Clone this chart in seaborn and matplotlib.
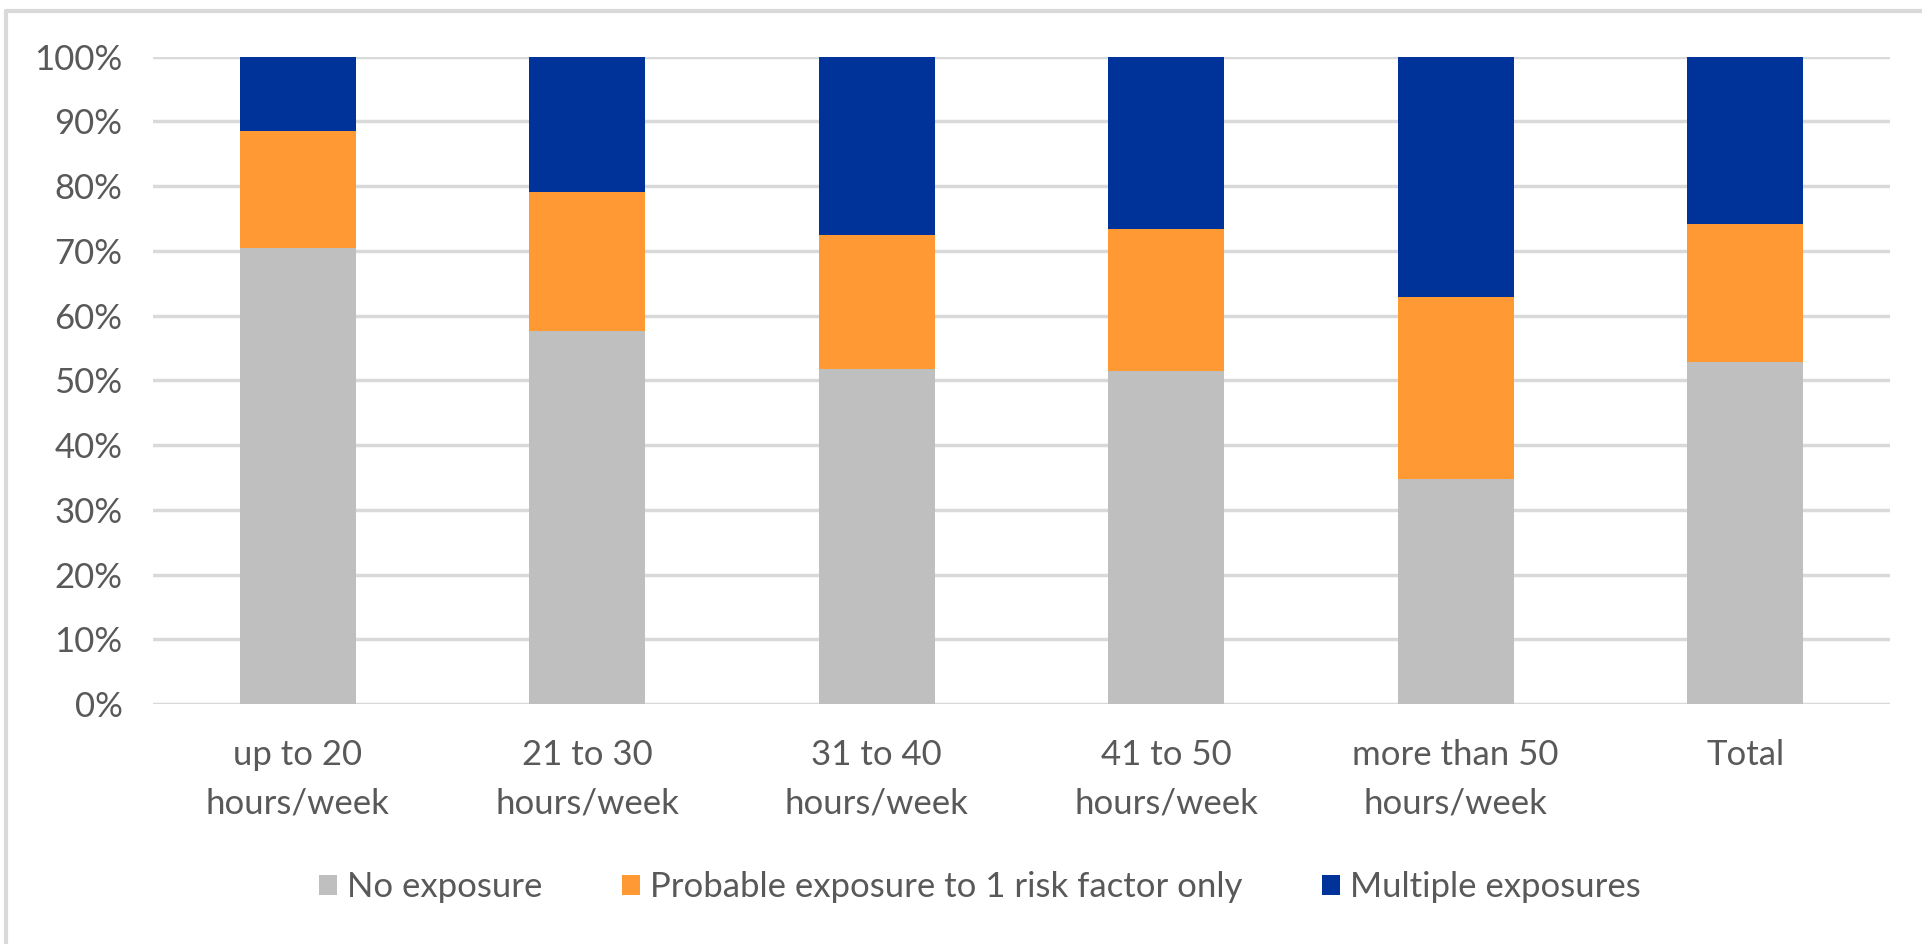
import matplotlib
matplotlib.use("Agg")
import matplotlib.pyplot as plt
from matplotlib.lines import Line2D
from matplotlib.patches import Patch
from matplotlib.ticker import FuncFormatter
import seaborn as sns
import pandas as pd
import numpy as np

# Share of workers by weekly working hours and exposure level (%)
categories = ["up to 20\nhours/week", "21 to 30\nhours/week", "31 to 40\nhours/week",
              "41 to 50\nhours/week", "more than 50\nhours/week", "Total"]
no_exposure = [70.5, 57.7, 51.8, 51.5, 34.8, 52.8]
probable_one = [18.0, 21.4, 20.7, 21.9, 28.0, 21.3]
multiple = [11.5, 20.9, 27.5, 26.6, 37.2, 25.9]
series_names = ["No exposure", "Probable exposure to 1 risk factor only", "Multiple exposures"]
y_ticks = list(range(0, 101, 10))

colors = ["#BFBFBF", "#FF9933", "#003399"]
text_color = "#595959"
grid_color = "#D9D9D9"
font_size = 25

sns.set_theme(style="white")
plt.rcParams["font.family"] = ["Lato", "DejaVu Sans"]

df = pd.DataFrame({
    "category": categories,
    "no": no_exposure,
    "probable": probable_one,
    "multiple": multiple,
})
df["lvl1"] = df["no"]
df["lvl2"] = df["no"] + df["probable"]
df["lvl3"] = df["lvl2"] + df["multiple"]

W, H = 1922, 944
fig = plt.figure(figsize=(W / 100, H / 100), dpi=100)
ax = fig.add_axes([153 / W, 1 - 704 / H, (1890 - 153) / W, (704 - 56.7) / H])

# Stack by drawing cumulative totals from tallest to shortest
for col, c in zip(["lvl3", "lvl2", "lvl1"], colors[::-1]):
    sns.barplot(data=df, x="category", y=col, color=c, width=0.4,
                saturation=1, ax=ax, zorder=3, linewidth=0)

ax.set_ylim(0, 100)
ax.set_xlim(-0.5, len(categories) - 0.5)
ax.set_yticks(y_ticks)
ax.yaxis.set_major_formatter(FuncFormatter(lambda v, p: f"{int(v)}%"))
ax.set_axisbelow(True)
ax.yaxis.grid(True, color=grid_color, linewidth=2.5)
ax.xaxis.grid(False)
for s in ax.spines.values():
    s.set_visible(False)
ax.set_xlabel("")
ax.set_ylabel("")
ax.tick_params(axis="y", length=0, pad=22, labelsize=font_size, labelcolor=text_color)
ax.tick_params(axis="x", length=0, pad=25, labelsize=font_size, labelcolor=text_color)
for lab in ax.get_xticklabels():
    lab.set_linespacing(1.64)
    lab.set_verticalalignment("top")

handles = [Patch(facecolor=c, edgecolor="none") for c in colors]
fig.legend(handles, series_names, loc="center", bbox_to_anchor=(0.51, 1 - 887 / H),
           ncol=3, frameon=False, fontsize=font_size, labelcolor=text_color,
           handlelength=0.5, handleheight=0.5, handletextpad=0.3, columnspacing=2.3)

# Light outer frame along the top and left edges
fig.add_artist(Line2D([6 / W, 6 / W], [0, 1 - 11 / H], color=grid_color, lw=3,
                      transform=fig.transFigure))
fig.add_artist(Line2D([6 / W, 1], [1 - 11 / H, 1 - 11 / H], color=grid_color, lw=3,
                      transform=fig.transFigure))

fig.savefig("out.png", dpi=100, facecolor="white")
